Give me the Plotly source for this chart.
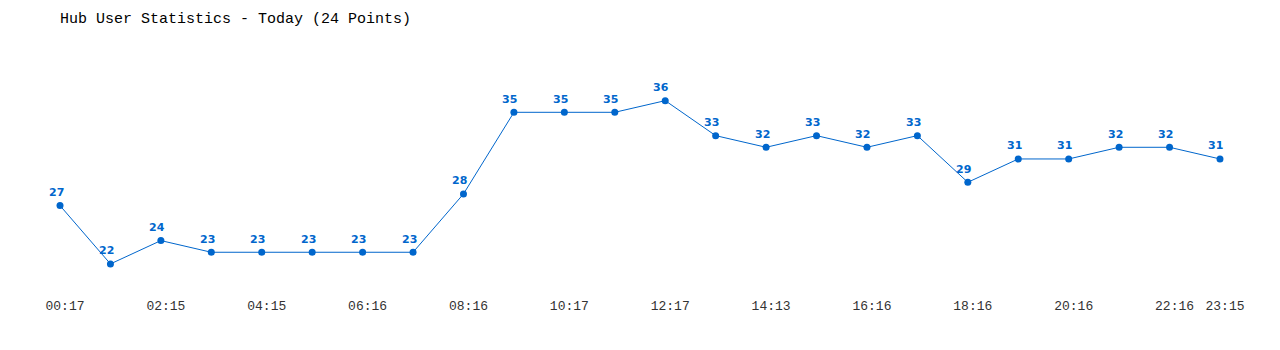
import plotly.graph_objects as go

values = [27, 22, 24, 23, 23, 23, 23, 23, 28, 35, 35, 35, 36, 33, 32, 33, 32, 33, 29, 31, 31, 32, 32, 31]
tick_index = [0, 2, 4, 6, 8, 10, 12, 14, 16, 18, 20, 22, 23]
tick_labels = ["00:17", "02:15", "04:15", "06:16", "08:16", "10:17", "12:17",
               "14:13", "16:16", "18:16", "20:16", "22:16", "23:15"]
title_text = "Hub User Statistics - Today (24 Points)"

x = list(range(len(values)))
blue = "#0066cc"

fig = go.Figure(go.Scatter(
    x=x, y=values,
    mode="lines+markers",
    line=dict(color=blue, width=1),
    marker=dict(color=blue, size=7),
    hoverinfo="x+y",
))

for xi, v in zip(x, values):
    fig.add_annotation(x=xi, y=v, text=str(v), showarrow=False,
                       xanchor="center", yanchor="middle", xshift=-4, yshift=13,
                       font=dict(family="DejaVu Sans", size=11, color=blue, weight="bold"))

fig.update_layout(
    width=1280, height=350,
    margin=dict(l=30, r=30, t=54, b=56),
    paper_bgcolor="white", plot_bgcolor="white",
    showlegend=False,
    title=dict(text=title_text, x=60/1280, xanchor="left", xref="container",
               y=1 - 18/350, yanchor="middle", yref="container",
               font=dict(family="Liberation Mono", size=15, color="#000000")),
    xaxis=dict(range=[-0.595, 23.595], showgrid=False, zeroline=False, showline=False,
               tickmode="array", tickvals=tick_index, ticktext=tick_labels,
               ticks="", ticklabelshift=5, ticklabelstandoff=2,
               tickfont=dict(family="Liberation Mono", size=13, color="#333333")),
    yaxis=dict(range=[19.42, 40], showgrid=False, zeroline=False, showline=False,
               showticklabels=False, ticks=""),
)

fig.write_html("out.html")
